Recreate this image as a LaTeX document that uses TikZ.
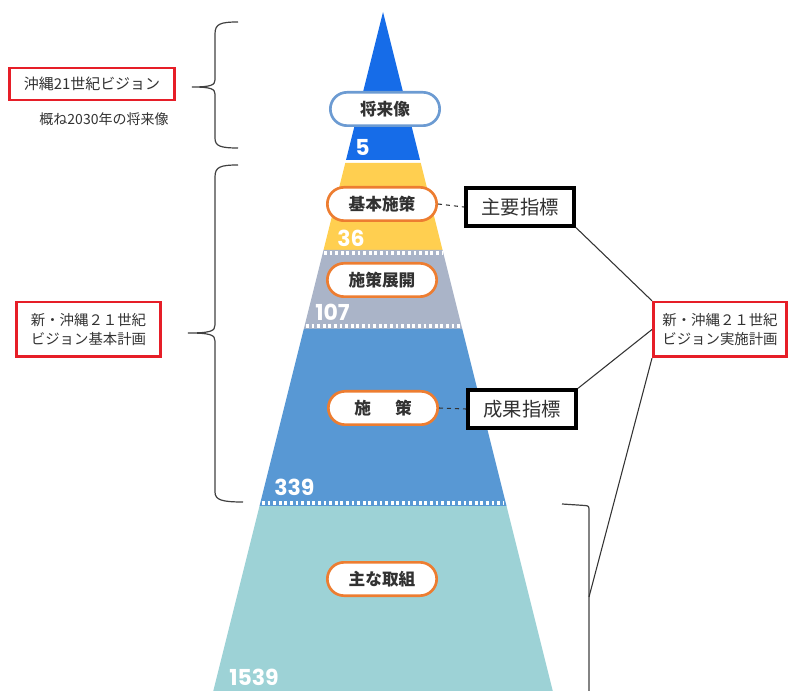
\documentclass[tikz,border=0pt]{standalone}
\usepackage{fontspec}
\setmainfont{Noto Sans CJK JP}
\newfontfamily\numfont{Poppins}
\usetikzlibrary{shapes.misc}

\definecolor{topblue}{RGB}{22,108,232}
\definecolor{pyryellow}{RGB}{255,207,80}
\definecolor{pyrgray}{RGB}{170,180,200}
\definecolor{pyrblue}{RGB}{88,152,212}
\definecolor{pyrteal}{RGB}{157,210,214}
\definecolor{lblorange}{RGB}{237,125,49}
\definecolor{lblblue}{RGB}{108,155,210}
\definecolor{boxred}{RGB}{230,30,40}
\definecolor{txtgray}{RGB}{50,50,50}

\begin{document}
\begin{tikzpicture}[x=0.75pt,y=-0.75pt,
    level/.style={rounded rectangle,draw=lblorange,line width=2pt,fill=white,
      minimum width=82pt,minimum height=25pt,inner sep=0pt,text=txtgray,
      font=\bfseries\fontsize{12.5}{14}\selectfont},
    count/.style={anchor=west,inner sep=0pt,text=white,
      font=\numfont\bfseries\fontsize{16.5}{18}\selectfont},
    sep/.style={white,line width=2.6pt,dash pattern=on 2.1pt off 2.1pt},
    index/.style={draw=black,line width=3pt,fill=white,minimum width=81pt,
      minimum height=28pt,inner sep=0pt,font=\fontsize{14.5}{16}\selectfont,text=txtgray},
    plan/.style={draw=boxred,line width=2pt,fill=white,inner sep=0pt,text=txtgray,
      align=center,font=\fontsize{10.8}{14.5}\selectfont},
    bracket/.style={draw=black!75,line width=0.9pt},
    link/.style={draw=black!80,line width=0.8pt}]
    \useasboundingbox (0,0) rectangle (789,691);
    \clip (0,0) rectangle (789,691);

    % pyramid
    \fill[topblue] (383,12) -- (420,160) -- (346,160) -- cycle;
    \fill[pyryellow] (345.25,163) -- (420.75,163) -- (442.5,250) -- (323.5,250) -- cycle;
    \fill[pyrgray] (323.5,250) -- (442.5,250) -- (462.25,329) -- (303.75,329) -- cycle;
    \fill[pyrblue] (303.75,329) -- (462.25,329) -- (506.5,506) -- (259.5,506) -- cycle;
    \fill[pyrteal] (259.5,506) -- (506.5,506) -- (555,700) -- (211,700) -- cycle;
    \draw[sep] (324,253) -- (442,253);
    \draw[sep] (306,326) -- (460,326);
    \draw[sep] (262,503) -- (504,503);

    \node[count] (n5) at (355,147) {5};
    \node[count] (n36) at (337,238) {36};
    \node[count] (n107) at (315,312) {107};
    \node[count] (n339) at (274,487) {339};
    \node[count] (n1539) at (229,677) {1539};

    \node[level,draw=lblblue] (vision) at (385,109) {将来像};
    \node[level] (kihon) at (382,204) {基本施策};
    \node[level] (tenkai) at (382,280) {施策展開};
    \node[level] (shisaku) at (383,408) {施\hspace{1.45em}策};
    \node[level] (torikumi) at (382,579) {主な取組};

    % indicators
    \node[index] (shuyo) at (520,207) {主要指標};
    \node[index] (seika) at (522,409) {成果指標};
    \draw[link,dashed] (kihon.east) -- (shuyo.west);
    \draw[link,dashed] (shisaku.east) -- (seika.west);

    % plans
    \node[plan,minimum width=124pt,minimum height=24pt,font=\fontsize{11.2}{13}\selectfont]
      (okinawa) at (92,84) {沖縄21世紀ビジョン};
    \node[text=txtgray,font=\fontsize{10.5}{12}\selectfont] (target) at (104,119) {概ね2030年の将来像};
    \node[plan,minimum width=108pt,minimum height=41pt] (kihonplan) at (88.5,329.5)
      {新・沖縄２１世紀\\ビジョン基本計画};
    \node[plan,minimum width=100pt,minimum height=41pt] (jisshi) at (720,329.5)
      {新・沖縄２１世紀\\ビジョン実施計画};

    % braces
    \draw[bracket] (238,22) .. controls (220,22) and (215,24) .. (215,34) -- (215,80)
      .. controls (215,85) and (211,87) .. (192,87)
      .. controls (211,87) and (215,89) .. (215,94) -- (215,138)
      .. controls (215,146) and (220,148) .. (238,148);
    \draw[bracket] (238,165) .. controls (220,165) and (215,167) .. (215,177) -- (215,325)
      .. controls (215,331) and (211,333) .. (188,333)
      .. controls (211,333) and (215,335) .. (215,341) -- (215,492)
      .. controls (215,500) and (222,502) .. (243,502);
    \draw[bracket] (562,504) -- (585,505.5) .. controls (589,506) .. (589,512) -- (589,700);
    \coordinate (jump) at (589,597);

    \draw[link] (shuyo.south east) -- (jisshi.north west);
    \draw[link] (seika.north east) -- (jisshi.west);
    \draw[link] (jisshi.south west) -- (jump);
\end{tikzpicture}
\end{document}
